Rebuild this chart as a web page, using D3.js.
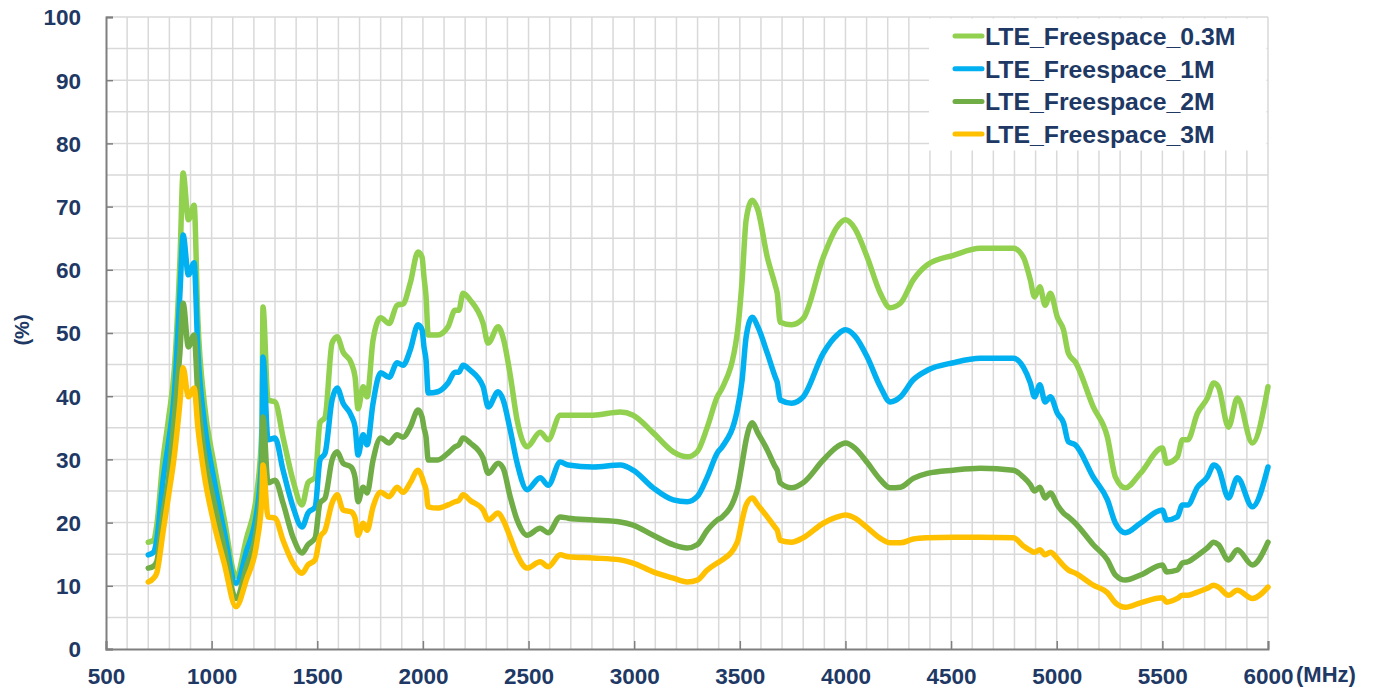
<!DOCTYPE html>
<html>
<head>
<meta charset="utf-8">
<script src="https://cdn.jsdelivr.net/npm/d3@7"></script>
<style>
  html, body { margin: 0; padding: 0; background: #fff; }
  svg { display: block; font-family: "Liberation Sans", Arial, sans-serif; }
</style>
</head>
<body>
<svg id="chart" width="1376" height="690"></svg>
<script>
// Frequency sample points (MHz) shared by all series
const freqs = [700, 725, 740, 770, 795, 825, 850, 865, 890, 917, 935, 965, 1010, 1060, 1115, 1165, 1215, 1238, 1243, 1267,
  1300, 1338, 1385, 1428, 1456, 1490, 1513, 1537, 1570, 1594, 1622, 1660, 1679, 1693, 1717, 1736, 1764, 1800, 1840, 1878,
  1906, 1940, 1977, 1996, 2005, 2015, 2025, 2070, 2119, 2152, 2170, 2190, 2224, 2285, 2309, 2356, 2380, 2413, 2446, 2493,
  2555, 2593, 2650, 2688, 2806, 2934, 2995, 3090, 3185, 3251, 3298, 3346, 3393, 3417, 3488, 3511, 3530, 3559, 3585, 3630,
  3668, 3677, 3691, 3745, 3800, 3895, 3961, 4000, 4045, 4103, 4165, 4212, 4260, 4321, 4388, 4511, 4638, 4795, 4842, 4875,
  4895, 4920, 4945, 4970, 5003, 5032, 5055, 5088, 5173, 5240, 5278, 5325, 5396, 5500, 5520, 5571, 5595, 5620, 5666, 5713,
  5743, 5765, 5813, 5855, 5926, 6000];

// Efficiency (%) per series
const eff03 = [16.9, 17.2, 19.5, 30.0, 36.2, 45.0, 61.5, 75.3, 67.9, 70.2, 52.0, 39.0, 29.5, 20.5, 11.5, 17.5, 25.0, 35.0, 54.1, 39.4,
  39.1, 33.5, 26.7, 22.8, 26.3, 27.2, 35.8, 36.7, 48.4, 49.4, 47.0, 45.3, 43.0, 38.0, 41.5, 39.9, 48.9, 52.4, 51.5, 54.4,
  54.6, 57.9, 62.8, 62.0, 58.9, 55.7, 49.7, 49.7, 51.0, 53.6, 53.6, 56.3, 55.2, 51.5, 48.4, 51.0, 49.2, 43.4, 36.2, 32.0,
  34.3, 33.1, 37.0, 37.0, 37.0, 37.5, 37.0, 34.2, 31.2, 30.4, 31.2, 35.1, 39.9, 41.3, 50.0, 58.4, 67.9, 71.0, 69.5, 62.0,
  57.5, 56.3, 51.7, 51.3, 52.3, 62.0, 66.8, 67.9, 66.5, 62.0, 56.3, 54.0, 54.7, 58.4, 60.8, 62.3, 63.4, 63.4, 62.0, 58.4,
  55.7, 57.3, 54.4, 56.3, 52.5, 50.5, 46.8, 45.4, 38.3, 33.5, 27.2, 25.5, 27.8, 31.8, 29.4, 30.4, 33.1, 33.1, 37.3, 39.7,
  42.1, 41.5, 35.1, 39.7, 32.6, 41.5];
const eff1 = [14.9, 15.3, 17.2, 26.7, 32.5, 41.0, 56.3, 65.5, 59.2, 61.1, 47.0, 36.0, 27.0, 18.5, 10.4, 15.5, 22.0, 31.0, 46.2, 33.1,
  33.4, 28.3, 22.5, 19.3, 21.5, 22.5, 29.9, 31.0, 39.4, 41.3, 38.9, 37.0, 35.1, 30.7, 33.9, 32.3, 38.9, 43.7, 43.0, 45.3,
  44.9, 47.3, 51.3, 50.5, 47.8, 45.7, 40.5, 40.7, 42.1, 43.8, 43.8, 44.9, 44.1, 41.5, 38.3, 40.7, 39.4, 34.7, 29.4, 25.2,
  27.1, 25.9, 29.6, 29.1, 28.8, 29.1, 28.3, 25.5, 23.6, 23.3, 24.1, 27.2, 31.0, 32.0, 37.8, 42.6, 49.4, 52.5, 51.0, 46.8,
  43.0, 42.2, 39.4, 38.9, 39.9, 46.8, 49.7, 50.5, 49.5, 46.2, 41.5, 39.1, 39.9, 42.6, 44.1, 45.3, 46.0, 46.0, 44.6, 42.1,
  39.9, 41.8, 39.1, 39.9, 37.3, 35.8, 32.8, 32.3, 27.2, 23.6, 19.9, 18.4, 19.9, 22.0, 20.4, 20.9, 22.8, 22.8, 25.6, 27.2,
  29.1, 28.6, 23.9, 27.1, 22.5, 28.8];
const eff2 = [12.8, 13.1, 13.8, 21.5, 26.7, 37.3, 47.0, 54.7, 47.8, 49.7, 40.0, 31.0, 23.5, 16.0, 8.0, 13.0, 19.5, 27.0, 36.7, 26.3,
  26.7, 23.1, 17.7, 15.2, 16.5, 17.6, 23.1, 23.9, 29.9, 31.2, 29.4, 28.8, 27.1, 23.3, 25.6, 24.7, 29.9, 33.4, 32.6, 33.9,
  33.5, 35.1, 37.8, 36.7, 35.0, 33.5, 29.9, 29.9, 31.0, 32.0, 32.3, 33.4, 32.6, 30.2, 27.8, 29.4, 28.6, 24.1, 20.4, 18.0,
  19.1, 18.4, 20.9, 20.7, 20.4, 20.1, 19.6, 18.0, 16.5, 16.0, 16.5, 18.8, 20.4, 20.9, 25.2, 29.4, 33.1, 35.8, 34.2, 31.5,
  28.8, 28.3, 26.3, 25.5, 26.3, 29.9, 32.0, 32.6, 31.8, 29.5, 26.8, 25.5, 25.6, 27.0, 27.8, 28.3, 28.6, 28.3, 27.2, 26.0,
  25.0, 25.6, 23.9, 24.7, 22.8, 21.5, 20.9, 19.9, 16.5, 14.1, 11.7, 10.9, 11.7, 13.3, 12.2, 12.5, 13.6, 13.8, 14.8, 16.0,
  16.9, 16.5, 14.1, 15.7, 13.3, 16.9];
const eff3 = [10.6, 11.2, 12.0, 18.5, 24.0, 31.0, 39.0, 44.5, 39.9, 41.3, 35.0, 27.5, 20.0, 13.5, 6.7, 11.0, 17.0, 24.0, 29.1, 20.9,
  20.7, 17.2, 13.6, 12.0, 13.3, 14.1, 17.7, 18.8, 23.1, 24.4, 22.0, 21.7, 20.7, 18.0, 19.9, 18.8, 22.5, 24.8, 24.1, 25.6,
  24.8, 26.3, 28.3, 27.2, 26.2, 25.2, 22.5, 22.3, 22.8, 23.3, 23.5, 24.4, 23.5, 22.0, 20.4, 21.5, 20.4, 17.7, 14.9, 12.8,
  13.8, 13.0, 14.9, 14.6, 14.4, 14.1, 13.6, 12.2, 11.2, 10.6, 10.9, 12.5, 13.6, 14.1, 16.9, 20.4, 22.8, 23.9, 22.8, 20.9,
  19.2, 18.8, 17.2, 16.9, 17.6, 19.9, 20.9, 21.2, 20.7, 19.2, 17.5, 16.8, 16.8, 17.4, 17.6, 17.7, 17.7, 17.6, 16.3, 15.6,
  15.3, 15.7, 14.9, 15.3, 14.3, 13.2, 12.5, 12.0, 10.1, 8.9, 7.3, 6.6, 7.3, 8.1, 7.4, 8.0, 8.5, 8.5, 9.0, 9.6,
  10.1, 9.8, 8.5, 9.3, 8.0, 9.8];

const seriesNames = ["LTE_Freespace_0.3M", "LTE_Freespace_1M", "LTE_Freespace_2M", "LTE_Freespace_3M"];
const seriesColors = ["#92d050", "#00b0f0", "#70ad47", "#ffc000"];
const seriesValues = [eff03, eff1, eff2, eff3];

const xTicks = [500, 1000, 1500, 2000, 2500, 3000, 3500, 4000, 4500, 5000, 5500, 6000];
const yTicks = [0, 10, 20, 30, 40, 50, 60, 70, 80, 90, 100];

const textColor = "#203864";
const svg = d3.select("#chart");

const plotLeft = 106, plotRight = 1268, plotTop = 17, plotBottom = 649;
const x = d3.scaleLinear().domain([500, 6000]).range([plotLeft, plotRight]);
const y = d3.scaleLinear().domain([0, 100]).range([plotBottom, plotTop]);

// Minor grid: every 100 MHz and every 5 %
const grid = svg.append("g");
grid.selectAll("line.v").data(d3.range(600, 6001, 100)).join("line")
  .attr("x1", d => x(d)).attr("x2", d => x(d)).attr("y1", plotTop).attr("y2", plotBottom)
  .attr("stroke", "#d9d9d9").attr("stroke-width", 1.5);
grid.selectAll("line.h").data(d3.range(5, 101, 5)).join("line")
  .attr("x1", plotLeft).attr("x2", plotRight).attr("y1", d => y(d)).attr("y2", d => y(d))
  .attr("stroke", "#d9d9d9").attr("stroke-width", 1.5);

// Legend background hides the grid beneath it
svg.append("rect").attr("x", 929).attr("y", plotTop + 1.5).attr("width", plotRight - 929 - 1.5).attr("height", 132)
  .attr("fill", "#fff");

// Axes
const xAxis = d3.axisBottom(x).tickValues(xTicks).tickSize(-8).tickPadding(19).tickFormat(d3.format("d"));
const yAxis = d3.axisLeft(y).tickValues(yTicks).tickSize(-7).tickPadding(25);

const gx = svg.append("g").attr("transform", `translate(0,${plotBottom})`).call(xAxis);
const gy = svg.append("g").attr("transform", `translate(${plotLeft},0)`).call(yAxis);
[gx, gy].forEach(g => {
  g.select(".domain").attr("stroke", "#7f7f7f").attr("stroke-width", 2);
  g.selectAll(".tick line").attr("stroke", "#7f7f7f").attr("stroke-width", 1.5);
  g.selectAll(".tick text").attr("fill", textColor).attr("font-size", 22.5).attr("font-weight", "bold")
    .attr("font-family", "'Liberation Sans', Arial, sans-serif");
});
gx.selectAll(".tick text").attr("dy", "0.71em");
gy.selectAll(".tick text").attr("dy", "0.35em");

// Axis unit labels
svg.append("text").attr("x", 1296).attr("y", 682).attr("fill", textColor)
  .attr("font-size", 22).attr("font-weight", "bold").text("(MHz)");
svg.append("text").attr("transform", "translate(29,330) rotate(-90)").attr("text-anchor", "middle")
  .attr("fill", textColor).attr("font-size", 20).attr("font-weight", "bold").text("(%)");

// Series lines
const line = d3.line().x(d => x(d[0])).y(d => y(d[1])).curve(d3.curveMonotoneX);
seriesValues.forEach((vals, i) => {
  svg.append("path")
    .datum(freqs.map((f, j) => [f, vals[j]]))
    .attr("d", line)
    .attr("fill", "none")
    .attr("stroke", seriesColors[i])
    .attr("stroke-width", 5.5)
    .attr("stroke-linejoin", "round")
    .attr("stroke-linecap", "round");
});

// Legend entries
const legend = svg.append("g");
seriesNames.forEach((name, i) => {
  const cy = 36 + i * 32.7;
  legend.append("line").attr("x1", 955).attr("x2", 982).attr("y1", cy).attr("y2", cy)
    .attr("stroke", seriesColors[i]).attr("stroke-width", 5).attr("stroke-linecap", "round");
  legend.append("text").attr("x", 985).attr("y", cy).attr("dy", "0.36em")
    .attr("fill", textColor).attr("font-size", 24.8).attr("font-weight", "bold").text(name);
});
</script>
</body>
</html>
